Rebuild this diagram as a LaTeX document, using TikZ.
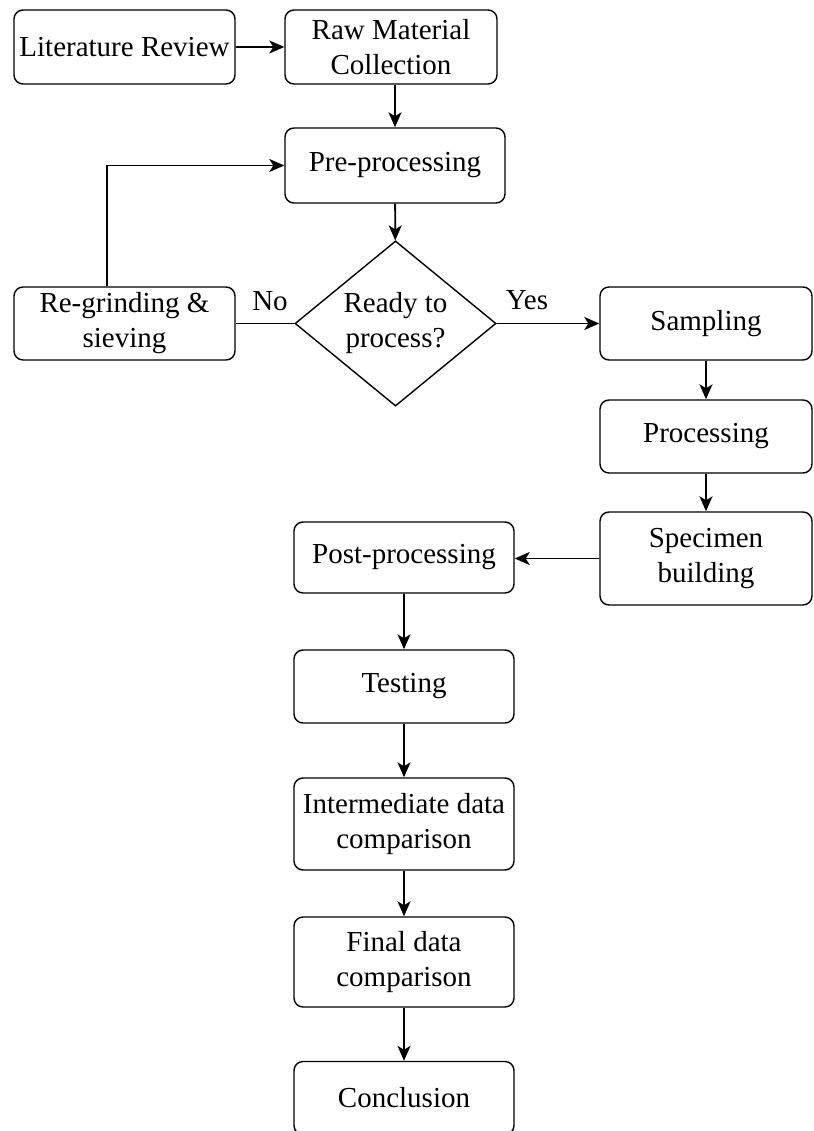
\documentclass[tikz,border=0pt]{standalone}
\usepackage{fontspec}
\setmainfont{Liberation Serif}
\usetikzlibrary{arrows.meta,shapes.geometric}

\begin{document}
\begin{tikzpicture}[
  x=1pt, y=-1pt,
  font=\fontsize{29}{35}\selectfont,
  >={Stealth[length=15pt, width=13pt, inset=4pt]},
  box/.style={draw, line width=1.4pt, rounded corners=9pt, fill=white,
    align=center, inner sep=0pt, minimum width=220pt, minimum height=73pt},
  decision/.style={draw, diamond, line width=1.4pt, fill=white, align=center,
    inner sep=0pt, minimum width=201pt, minimum height=153pt},
  flow/.style={->, line width=1.8pt}
]
  \useasboundingbox (0,0) rectangle (813,1131);

  \node[box, minimum width=221pt, minimum height=74pt] (lit) at (124.5,47) {Literature Review};
  \node[box, minimum width=212pt, minimum height=74pt] (raw) at (391,47) {Raw Material\\Collection};
  \node[box, minimum height=75pt] (pre) at (395,165.5) {Pre-processing};
  \node[decision] (ready) at (395.5,323.5) {Ready to\\process?};
  \node[box, minimum width=221pt] (regrind) at (124.5,323.5) {Re-grinding \&\\sieving};
  \node[box, minimum width=212pt] (samp) at (706,323.5) {Sampling};
  \node[box, minimum width=212pt] (proc) at (706,436.5) {Processing};
  \node[box, minimum width=212pt, minimum height=93pt] (spec) at (706,558.5) {Specimen\\building};
  \node[box, minimum height=71pt] (post) at (404,557.5) {Post-processing};
  \node[box] (test) at (404,686.5) {Testing};
  \node[box, minimum height=92pt] (inter) at (404,824) {Intermediate data\\comparison};
  \node[box, minimum height=90pt] (final) at (404,962) {Final data\\comparison};
  \node[box] (concl) at (404,1098) {Conclusion};

  \node (lblno) at (270,301) {No};
  \node (lblyes) at (527,300) {Yes};

  \draw[flow] (lit) -- (raw);
  \draw[flow] (raw.south -| pre.north) -- (pre.north);
  \draw[flow] (pre) -- (ready);
  \draw[line width=1.8pt] (ready.west) -- (regrind.east);
  \draw[flow] ([xshift=-17.5pt]regrind.north) |- (pre.west);
  \draw[flow] (ready.east) -- (samp.west);
  \draw[flow] (samp) -- (proc);
  \draw[flow] (proc) -- (spec);
  \draw[flow] (spec.west) -- (spec.west -| post.east);
  \draw[flow] (post) -- (test);
  \draw[flow] (test) -- (inter);
  \draw[flow] (inter) -- (final);
  \draw[flow] (final) -- (concl);
\end{tikzpicture}
\end{document}
